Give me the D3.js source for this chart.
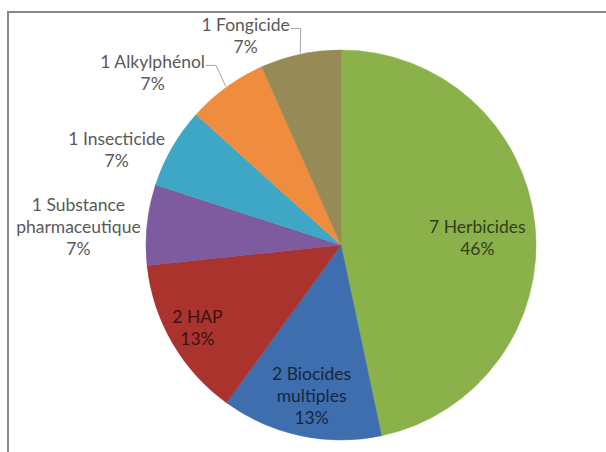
<!DOCTYPE html>
<html>
<head>
<meta charset="utf-8">
<script src="https://cdn.jsdelivr.net/npm/d3@7"></script>
<style>
  html, body { margin: 0; padding: 0; background: #fff; }
  svg { display: block; }
</style>
</head>
<body>
<svg id="chart" width="606" height="452"></svg>
<script>
// substance groups, number of substances in each, and the shares printed under them
const categories = ["Herbicides", "Biocides multiples", "HAP", "Substance pharmaceutique", "Insecticide", "Alkylphénol", "Fongicide"];
const counts = [7, 2, 2, 1, 1, 1, 1];
const shareLabels = ["46%", "13%", "13%", "7%", "7%", "7%", "7%"];
const colors = ["#8bb14a", "#3e6eae", "#aa332e", "#7d5b9e", "#3ea7c5", "#ef8c3e", "#968a57"];

const width = 606, height = 452;
const center = { x: 341, y: 245 };
const radius = 195;
const lineHeight = 22;

/* where each label sits: [distance as a fraction of the radius, angle shift in degrees] */
const labelSpots = {
  "Herbicides": [0.70, 3],
  "Biocides multiples": [0.79, -1],
  "HAP": [0.85, 0],
  "Substance pharmaceutique": [1.35, -2],
  "Insecticide": [1.25, -7],
  "Alkylphénol": [1.31, -11.5],
  "Fongicide": [1.18, -12.5]
};

const data = categories.map((name, i) => ({ name, count: counts[i], share: shareLabels[i], color: colors[i] }));

const svg = d3.select("#chart");

/*frame lines along the top and the left*/
svg.append("line")
  .attr("x1", 7).attr("x2", width).attr("y1", 12).attr("y2", 12)
  .attr("stroke", "#878787").attr("stroke-width", 2);
svg.append("line")
  .attr("x1", 8).attr("x2", 8).attr("y1", 12).attr("y2", height)
  .attr("stroke", "#878787").attr("stroke-width", 2);

const pie = d3.pie().sort(null).value(d => d.count);
const arc = d3.arc().innerRadius(0).outerRadius(radius);
const arcs = pie(data);

const g = svg.append("g").attr("transform", `translate(${center.x},${center.y})`);

g.selectAll("path.slice")
  .data(arcs)
  .enter()
  .append("path")
  .attr("class", "slice")
  .attr("d", arc)
  .attr("fill", d => d.data.color)
  .attr("stroke", d => d.data.color)
  .attr("stroke-width", 0.5);

const polar = (angle, dist) => [Math.sin(angle) * dist, -Math.cos(angle) * dist];

/*split a label into lines that fit a given width*/
function wrapWords(text, maxWidth, probe) {
  const words = text.split(" ");
  const lines = [];
  let line = words[0];
  for (let i = 1; i < words.length; i++) {
    const test = line + " " + words[i];
    probe.text(test);
    if (probe.node().getComputedTextLength() > maxWidth) {
      lines.push(line);
      line = words[i];
    } else {
      line = test;
    }
  }
  lines.push(line);
  return lines;
}

const labels = g.append("g")
  .style("font-family", "Lato, 'Open Sans', sans-serif")
  .style("font-size", "17.5px");

const probe = labels.append("text").attr("visibility", "hidden");

arcs.forEach(d => {
  const mid = (d.startAngle + d.endAngle) / 2;
  const [k, shift] = labelSpots[d.data.name];
  const [lx, ly] = polar(mid + shift * Math.PI / 180, radius * k);
  const inside = k < 1;
  const lines = wrapWords(`${d.data.count} ${d.data.name}`, 128, probe).concat([d.data.share]);
  const top = ly - (lines.length - 1) * lineHeight / 2;

  const fill = inside ? d3.color(d.data.color).darker(2.9).formatHex() : "#595959";
  const text = labels.append("text")
    .attr("text-anchor", "middle")
    .attr("fill", fill);
  lines.forEach((t, i) => {
    text.append("tspan")
      .attr("x", lx)
      .attr("y", top + i * lineHeight)
      .attr("dy", "0.35em")
      .text(t);
  });

  if (inside) return;

  /*leader line when the label is pushed away from its slice*/
  const [ax, ay] = polar(mid, radius + 1);
  const box = text.node().getBBox();
  const gapX = Math.max(box.x - ax, 0, ax - (box.x + box.width));
  const gapY = Math.max(box.y - ay, 0, ay - (box.y + box.height));
  if (Math.hypot(gapX, gapY) > 10) {
    const sy = top + 4;
    const sx = box.x + box.width + 1;
    labels.append("path")
      .attr("d", d3.line()([[sx, sy], [sx + 10, sy], [ax, ay]]))
      .attr("fill", "none")
      .attr("stroke", "#a6a6a6")
      .attr("stroke-width", 1);
  }
});

probe.remove();
</script>
</body>
</html>
